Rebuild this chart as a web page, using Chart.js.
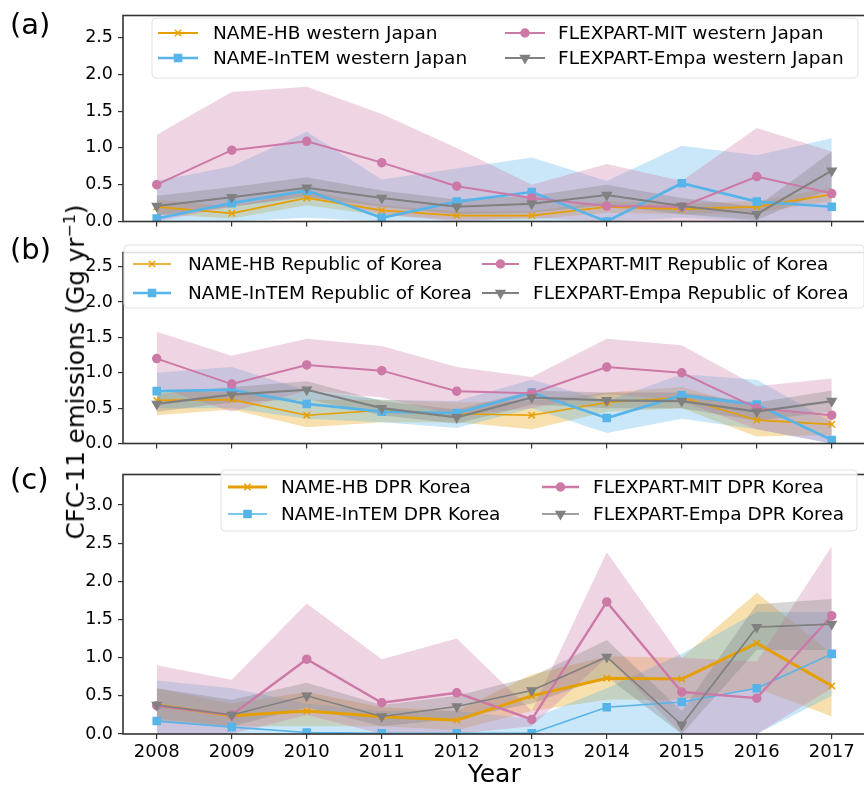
<!DOCTYPE html>
<html>
<head>
<meta charset="utf-8">
<script src="https://cdn.jsdelivr.net/npm/chart.js@4.4.1/dist/chart.umd.min.js"></script>
<style>
  html, body { margin: 0; padding: 0; background: #fff; overflow: hidden; width: 864px; height: 791px; }
  canvas { position: absolute; left: 0; }
  .tag { position: absolute; left: 10px; font: 29px 'DejaVu Sans'; line-height: 29px; color: #000; }
  #ytitle {
    position: absolute; left: 75px; top: 372px; white-space: nowrap;
    font: 24.5px 'DejaVu Sans'; color: #000;
    transform: translate(-50%, -50%) rotate(-90deg);
  }
  #ytitle sup { font-size: 16px; }
</style>
</head>
<body>
<canvas id="chartA" width="872" height="237" style="top:0px"></canvas>
<canvas id="chartB" width="872" height="222" style="top:237px"></canvas>
<canvas id="chartC" width="872" height="332" style="top:459px"></canvas>
<div class="tag" style="top:10px">(a)</div>
<div class="tag" style="top:235px">(b)</div>
<div class="tag" style="top:465px">(c)</div>
<div id="ytitle">CFC-11 emissions (Gg yr<sup>−1</sup>)</div>

<script>
const years = [2008, 2009, 2010, 2011, 2012, 2013, 2014, 2015, 2016, 2017];
const yTicksAB = [0, 0.5, 1.0, 1.5, 2.0, 2.5];
const yTicksC = [0, 0.5, 1.0, 1.5, 2.0, 2.5, 3.0];

// (a) western Japan
const labelsJapan = ['NAME-HB western Japan', 'NAME-InTEM western Japan', 'FLEXPART-MIT western Japan', 'FLEXPART-Empa western Japan'];
const hbJapan    = [0.20, 0.11, 0.32, 0.15, 0.08, 0.08, 0.20, 0.17, 0.20, 0.37];
const hbJapanLo  = [0.10, 0.04, 0.22, 0.08, 0.03, 0.03, 0.12, 0.10, 0.12, 0.28];
const hbJapanHi  = [0.30, 0.20, 0.42, 0.22, 0.14, 0.14, 0.28, 0.24, 0.28, 0.46];
const intemJapan   = [0.04, 0.25, 0.42, 0.05, 0.27, 0.40, 0.00, 0.52, 0.27, 0.20];
const intemJapanLo = [0.00, 0.00, 0.05, 0.00, 0.00, 0.00, 0.00, 0.05, 0.00, 0.00];
const intemJapanHi = [0.55, 0.75, 1.22, 0.57, 0.72, 0.87, 0.55, 1.03, 0.90, 1.13];
const mitJapan   = [0.50, 0.97, 1.09, 0.80, 0.48, 0.32, 0.21, 0.20, 0.61, 0.38];
const mitJapanLo = [0.00, 0.20, 0.35, 0.10, 0.00, 0.05, 0.00, 0.00, 0.00, 0.00];
const mitJapanHi = [1.18, 1.76, 1.83, 1.46, 1.00, 0.50, 0.78, 0.55, 1.27, 0.95];
const empaJapan   = [0.21, 0.33, 0.46, 0.32, 0.20, 0.24, 0.36, 0.21, 0.10, 0.69];
const empaJapanLo = [0.08, 0.20, 0.33, 0.20, 0.10, 0.12, 0.22, 0.10, 0.02, 0.45];
const empaJapanHi = [0.35, 0.47, 0.60, 0.42, 0.30, 0.35, 0.50, 0.32, 0.20, 0.95];

// (b) Republic of Korea
const labelsRok = ['NAME-HB Republic of Korea', 'NAME-InTEM Republic of Korea', 'FLEXPART-MIT Republic of Korea', 'FLEXPART-Empa Republic of Korea'];
const hbRok    = [0.61, 0.62, 0.40, 0.47, 0.42, 0.40, 0.58, 0.65, 0.33, 0.27];
const hbRokLo  = [0.40, 0.48, 0.23, 0.30, 0.30, 0.20, 0.45, 0.50, 0.10, 0.12];
const hbRokHi  = [0.75, 0.72, 0.62, 0.62, 0.58, 0.60, 0.72, 0.80, 0.50, 0.40];
const intemRok   = [0.74, 0.76, 0.56, 0.45, 0.43, 0.72, 0.36, 0.68, 0.55, 0.05];
const intemRokLo = [0.50, 0.50, 0.35, 0.30, 0.22, 0.50, 0.15, 0.35, 0.20, 0.00];
const intemRokHi = [1.00, 1.08, 0.75, 0.62, 0.60, 0.90, 0.60, 0.98, 0.90, 0.30];
const mitRok   = [1.20, 0.84, 1.11, 1.03, 0.74, 0.71, 1.08, 1.00, 0.50, 0.40];
const mitRokLo = [0.80, 0.45, 0.75, 0.65, 0.40, 0.50, 0.70, 0.60, 0.20, 0.00];
const mitRokHi = [1.58, 1.24, 1.48, 1.38, 1.08, 0.94, 1.48, 1.39, 0.81, 0.92];
const empaRok   = [0.56, 0.69, 0.76, 0.50, 0.37, 0.65, 0.61, 0.60, 0.45, 0.60];
const empaRokLo = [0.45, 0.58, 0.63, 0.40, 0.28, 0.55, 0.50, 0.50, 0.32, 0.45];
const empaRokHi = [0.70, 0.80, 0.88, 0.60, 0.48, 0.75, 0.72, 0.72, 0.58, 0.75];

// (c) DPR Korea
const labelsDprk = ['NAME-HB DPR Korea', 'NAME-InTEM DPR Korea', 'FLEXPART-MIT DPR Korea', 'FLEXPART-Empa DPR Korea'];
const hbDprk    = [0.38, 0.24, 0.30, 0.23, 0.18, 0.50, 0.73, 0.72, 1.19, 0.63];
const hbDprkLo  = [0.20, 0.10, 0.10, 0.10, 0.05, 0.30, 0.45, 0.45, 0.60, 0.23];
const hbDprkHi  = [0.60, 0.40, 0.55, 0.35, 0.30, 0.78, 1.02, 1.00, 1.85, 1.05];
const intemDprk   = [0.17, 0.09, 0.02, 0.01, 0.01, 0.01, 0.35, 0.42, 0.60, 1.05];
const intemDprkLo = [0.00, 0.00, 0.00, 0.00, 0.00, 0.00, 0.00, 0.00, 0.00, 0.50];
const intemDprkHi = [0.70, 0.60, 0.40, 0.30, 0.30, 0.20, 0.60, 1.05, 1.60, 1.60];
const mitDprk   = [0.37, 0.25, 0.98, 0.41, 0.54, 0.19, 1.73, 0.55, 0.47, 1.55];
const mitDprkLo = [0.00, 0.00, 0.25, 0.00, 0.00, 0.10, 1.00, 0.00, 0.00, 0.60];
const mitDprkHi = [0.90, 0.71, 1.71, 0.98, 1.25, 0.30, 2.38, 1.00, 0.95, 2.46];
const empaDprk   = [0.38, 0.25, 0.50, 0.23, 0.36, 0.57, 1.01, 0.12, 1.40, 1.44];
const empaDprkLo = [0.15, 0.10, 0.35, 0.10, 0.20, 0.40, 0.75, 0.00, 1.10, 1.10];
const empaDprkHi = [0.60, 0.45, 0.67, 0.38, 0.50, 0.75, 1.23, 0.30, 1.70, 1.77];

const FONT = 'DejaVu Sans';

// marker / colour per model, same order as the label arrays
const styles = [
  { color: '#E69F00', point: 'crossRot', radius: 4.5, rotation: 0 },
  { color: '#56B4E9', point: 'rect', radius: 5, rotation: 0 },
  { color: '#CC79A7', point: 'circle', radius: 4, rotation: 0 },
  { color: '#808080', point: 'triangle', radius: 5, rotation: 180 }
];

function withAlpha(hex, a) {
  const n = parseInt(hex.slice(1), 16);
  return `rgba(${n >> 16}, ${(n >> 8) & 255}, ${n & 255}, ${a})`;
}

function toXY(vals) {
  return vals.map((v, i) => ({ x: years[i], y: v }));
}

function buildDatasets(labels, mids, los, his, widths) {
  const sets = [];
  // uncertainty bands: upper filled down to the lower one
  labels.forEach((_, i) => {
    const col = styles[i].color;
    sets.push({ data: toXY(his[i]), fill: '+1', backgroundColor: withAlpha(col, 0.32),
      borderColor: 'rgba(0,0,0,0)', borderWidth: 0, pointRadius: 0, order: 20 - i });
    sets.push({ data: toXY(los[i]), fill: false,
      borderColor: 'rgba(0,0,0,0)', borderWidth: 0, pointRadius: 0, order: 20 - i });
  });
  labels.forEach((label, i) => {
    const st = styles[i];
    sets.push({
      label: label, isSeries: true, data: toXY(mids[i]), fill: false,
      borderColor: st.color, backgroundColor: st.color, borderWidth: widths[i],
      pointStyle: st.point, pointRadius: st.radius, pointRotation: st.rotation,
      pointBackgroundColor: st.color, pointBorderColor: st.color, pointBorderWidth: 1.5,
      tension: 0, order: 4 - i
    });
  });
  return sets;
}

const framePlugin = {
  id: 'frame',
  afterDatasetsDraw(chart) {
    const { ctx, chartArea: a } = chart;
    ctx.save();
    ctx.strokeStyle = '#333';
    ctx.lineWidth = 1.6;
    ctx.strokeRect(a.left, a.top, a.right - a.left, a.bottom - a.top);
    ctx.restore();
  }
};

// matplotlib-style legend inside the axes, two columns
const boxLegend = {
  id: 'boxLegend',
  afterDraw(chart, args, opts) {
    const ctx = chart.ctx;
    const b = opts.box;
    ctx.save();
    ctx.fillStyle = 'rgba(255,255,255,0.85)';
    ctx.strokeStyle = '#e2e2e2';
    ctx.lineWidth = 1;
    ctx.beginPath();
    if (ctx.roundRect) ctx.roundRect(b.x, b.y, b.w, b.h, 4); else ctx.rect(b.x, b.y, b.w, b.h);
    ctx.fill();
    ctx.stroke();

    const series = chart.data.datasets.filter(d => d.isSeries);
    series.forEach((d, i) => {
      const c = opts.cols[Math.floor(i / 2)];
      const y = opts.rows[i % 2];
      ctx.strokeStyle = d.borderColor;
      ctx.fillStyle = d.borderColor;
      ctx.lineWidth = d.borderWidth;
      ctx.beginPath();
      ctx.moveTo(c.x1, y);
      ctx.lineTo(c.x2, y);
      ctx.stroke();
      ctx.lineWidth = 1.5;
      Chart.helpers.drawPoint(ctx, { pointStyle: d.pointStyle, radius: d.pointRadius, rotation: d.pointRotation, borderWidth: 1.5 }, (c.x1 + c.x2) / 2, y);
      ctx.fillStyle = '#000';
      ctx.font = `${opts.size}px '${FONT}'`;
      ctx.textBaseline = 'middle';
      ctx.textAlign = 'left';
      ctx.fillText(d.label, c.tx, y + 1);
    });
    ctx.restore();
  }
};

function makeChart(id, cfg) {
  const axisGrid = { drawOnChartArea: false, drawTicks: true, color: '#333', lineWidth: 1.2, tickLength: 5 };
  return new Chart(document.getElementById(id), {
    type: 'line',
    data: { datasets: buildDatasets(cfg.labels, cfg.mids, cfg.los, cfg.his, cfg.widths) },
    options: {
      responsive: false,
      animation: false,
      devicePixelRatio: 1,
      layout: { padding: { top: cfg.padTop, right: 3, left: 0, bottom: 0 } },
      plugins: {
        legend: { display: false },
        tooltip: { enabled: false },
        boxLegend: cfg.legend
      },
      scales: {
        x: {
          type: 'linear', min: 2007.55, max: 2017.45,
          afterBuildTicks: s => { s.ticks = years.map(v => ({ value: v })); },
          afterFit: s => { s.height = cfg.xHeight; },
          grid: axisGrid,
          border: { display: false },
          ticks: { display: cfg.showX, color: '#000', font: { family: FONT, size: 18 }, padding: 3, maxRotation: 0, callback: v => String(v) },
          title: { display: cfg.showX, text: 'Year', color: '#000', font: { family: FONT, size: 25 }, padding: { top: 0, bottom: 1 } }
        },
        y: {
          min: 0, max: cfg.yMax,
          afterBuildTicks: s => { s.ticks = cfg.yTicks.map(v => ({ value: v })); },
          afterFit: s => { s.width = 123; },
          grid: axisGrid,
          border: { display: false },
          ticks: { color: '#000', font: { family: FONT, size: 17.5 }, padding: 5, callback: v => v.toFixed(1) }
        }
      }
    },
    plugins: [framePlugin, boxLegend]
  });
}

makeChart('chartA', {
  labels: labelsJapan,
  mids: [hbJapan, intemJapan, mitJapan, empaJapan],
  los: [hbJapanLo, intemJapanLo, mitJapanLo, empaJapanLo],
  his: [hbJapanHi, intemJapanHi, mitJapanHi, empaJapanHi],
  widths: [1.8, 2.6, 2, 2],
  yMax: 2.8, yTicks: yTicksAB, padTop: 8, xHeight: 4, showX: false,
  legend: { size: 18.5, box: { x: 152, y: 18, w: 706, h: 60 }, rows: [33, 58],
    cols: [{ x1: 158, x2: 198, tx: 213 }, { x1: 505, x2: 545, tx: 558 }] }
});

makeChart('chartB', {
  labels: labelsRok,
  mids: [hbRok, intemRok, mitRok, empaRok],
  los: [hbRokLo, intemRokLo, mitRokLo, empaRokLo],
  his: [hbRokHi, intemRokHi, mitRokHi, empaRokHi],
  widths: [1.6, 2.6, 2, 2.2],
  yMax: 2.7, yTicks: yTicksAB, padTop: 2, xHeight: 4, showX: false,
  legend: { size: 18.5, box: { x: 124, y: 8, w: 740, h: 63 }, rows: [27, 56],
    cols: [{ x1: 133, x2: 171, tx: 188 }, { x1: 482, x2: 519, tx: 533 }] }
});

makeChart('chartC', {
  labels: labelsDprk,
  mids: [hbDprk, intemDprk, mitDprk, empaDprk],
  los: [hbDprkLo, intemDprkLo, mitDprkLo, empaDprkLo],
  his: [hbDprkHi, intemDprkHi, mitDprkHi, empaDprkHi],
  widths: [3, 1.6, 2.4, 1.6],
  yMax: 3.4, yTicks: yTicksC, padTop: 2, xHeight: 57, showX: true,
  legend: { size: 18.5, box: { x: 221, y: 11, w: 636, h: 61 }, rows: [28, 55],
    cols: [{ x1: 228, x2: 267, tx: 281 }, { x1: 542, x2: 579, tx: 593 }] }
});
</script>
</body>
</html>
